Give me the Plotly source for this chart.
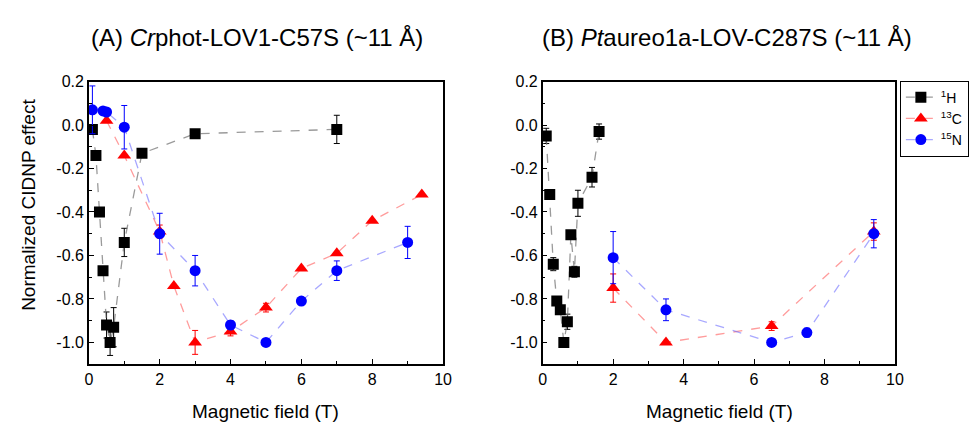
import plotly.graph_objects as go

# Panel A: Crphot-LOV1-C57S
a_h_x = [0.1, 0.2, 0.3, 0.4, 0.5, 0.6, 0.7, 1.0, 1.5, 3.0, 7.0]
a_h_y = [-0.02, -0.14, -0.40, -0.67, -0.92, -1.00, -0.93, -0.54, -0.13, -0.04, -0.02]
a_h_e = [0.0, 0.0, 0.0, 0.015, 0.06, 0.06, 0.09, 0.065, 0.0, 0.0, 0.065]

a_c_x = [0.5, 1.0, 2.0, 2.4, 3.0, 4.0, 5.0, 6.0, 7.0, 8.0, 9.4]
a_c_y = [0.02, -0.14, -0.49, -0.74, -1.00, -0.95, -0.84, -0.66, -0.59, -0.44, -0.32]
a_c_e = [0.0, 0.0, 0.03, 0.0, 0.055, 0.02, 0.02, 0.0, 0.0, 0.0, 0.0]

a_n_x = [0.1, 0.4, 0.5, 1.0, 2.0, 3.0, 4.0, 5.0, 6.0, 7.0, 9.0]
a_n_y = [0.07, 0.065, 0.06, -0.01, -0.50, -0.67, -0.92, -1.00, -0.81, -0.67, -0.54]
a_n_e = [0.11, 0.0, 0.0, 0.10, 0.094, 0.07, 0.02, 0.0, 0.0, 0.045, 0.074]

# Panel B: Ptaureo1a-LOV-C287S
b_h_x = [0.1, 0.2, 0.3, 0.4, 0.5, 0.6, 0.7, 0.8, 0.9, 1.0, 1.4, 1.6]
b_h_y = [-0.05, -0.32, -0.64, -0.81, -0.85, -1.00, -0.905, -0.505, -0.675, -0.36, -0.24, -0.03]
b_h_e = [0.035, 0.0, 0.03, 0.0, 0.0, 0.0, 0.035, 0.0, 0.025, 0.06, 0.045, 0.035]

b_c_x = [2.0, 3.5, 6.5, 9.4]
b_c_y = [-0.75, -1.00, -0.925, -0.49]
b_c_e = [0.065, 0.0, 0.02, 0.04]

b_n_x = [2.0, 3.5, 6.5, 7.5, 9.4]
b_n_y = [-0.61, -0.85, -1.00, -0.955, -0.50]
b_n_e = [0.12, 0.05, 0.0, 0.02, 0.065]

y_tickvals = [0.2, 0.0, -0.2, -0.4, -0.6, -0.8, -1.0]
y_ticktext = ["0.2", "0.0", "-0.2", "-0.4", "-0.6", "-0.8", "-1.0"]
x_tickvals = [0, 2, 4, 6, 8, 10]
x_ticktext = ["0", "2", "4", "6", "8", "10"]

series_names = ["<sup>1</sup>H", "<sup>13</sup>C", "<sup>15</sup>N"]
marker_colors = ["black", "red", "blue"]
line_colors = ["rgba(120,120,120,0.75)", "rgba(255,90,90,0.6)", "rgba(110,110,255,0.6)"]
symbols = ["square", "triangle-up", "circle"]

FONT = "Liberation Sans, Arial, sans-serif"

fig = go.Figure()

panels = [
    ("x", "y", [(a_h_x, a_h_y, a_h_e), (a_c_x, a_c_y, a_c_e), (a_n_x, a_n_y, a_n_e)], True),
    ("x2", "y2", [(b_h_x, b_h_y, b_h_e), (b_c_x, b_c_y, b_c_e), (b_n_x, b_n_y, b_n_e)], False),
]
for xa, ya, series, show in panels:
    for i, (xs, ys, es) in enumerate(series):
        fig.add_trace(go.Scatter(
            x=xs, y=ys, xaxis=xa, yaxis=ya,
            mode="lines+markers",
            name=series_names[i], legendgroup=str(i), showlegend=show,
            line=dict(color=line_colors[i], dash="dash", width=1.3),
            marker=dict(color=marker_colors[i], symbol=symbols[i], size=11 if i != 1 else 12,
                        line=dict(width=0)),
            error_y=dict(type="data", array=es, visible=True, color=marker_colors[i],
                         thickness=1, width=3),
        ))

axis_common = dict(
    showline=True, linecolor="black", linewidth=1.5, mirror=True,
    ticks="inside", ticklen=5, tickcolor="black", showgrid=False, zeroline=False,
    tickfont=dict(family=FONT, size=16, color="black"),
)
x_common = dict(axis_common, range=[0, 10], tickvals=x_tickvals, ticktext=x_ticktext,
                minor=dict(ticks="inside", ticklen=3, dtick=1, tickcolor="black"))
y_common = dict(axis_common, range=[-1.1, 0.2], tickvals=y_tickvals, ticktext=y_ticktext,
                minor=dict(ticks="inside", ticklen=3, dtick=0.1, tickcolor="black"))

W, H = 973, 423


def px(p):
    return p / W


def py(p):
    return 1 - p / H


fig.update_layout(
    width=W, height=H,
    margin=dict(l=0, r=0, t=0, b=0),
    paper_bgcolor="white", plot_bgcolor="white",
    font=dict(family=FONT, color="black"),
    xaxis=dict(x_common, domain=[px(86), px(445)], anchor="y"),
    yaxis=dict(y_common, domain=[py(363), py(75)], anchor="x"),
    xaxis2=dict(x_common, domain=[px(546), px(903)], anchor="y2"),
    yaxis2=dict(y_common, domain=[py(363), py(75)], anchor="x2"),
    legend=dict(x=px(908), y=py(74), xanchor="left", yanchor="top",
                bordercolor="black", borderwidth=1, bgcolor="white",
                font=dict(family=FONT, size=14), itemwidth=30,
                tracegroupgap=0),
    showlegend=True,
)

annotations = [
    dict(text="(A) <i>Cr</i>phot-LOV1-C57S (~11 Å)", x=px(256), y=py(30), size=24),
    dict(text="(B) <i>Pt</i>aureo1a-LOV-C287S (~11 Å)", x=px(733), y=py(30), size=24),
    dict(text="Magnetic field (T)", x=px(265), y=py(411), size=19),
    dict(text="Magnetic field (T)", x=px(725), y=py(411), size=19),
]
for a in annotations:
    fig.add_annotation(text=a["text"], x=a["x"], y=a["y"], xref="paper", yref="paper",
                       showarrow=False, xanchor="center", yanchor="middle",
                       font=dict(family=FONT, size=a["size"], color="black"))
fig.add_annotation(text="Normalized CIDNP effect", x=px(25), y=py(201),
                   xref="paper", yref="paper", showarrow=False, textangle=-90,
                   xanchor="center", yanchor="middle",
                   font=dict(family=FONT, size=19, color="black"))

fig.write_html("out.html", config={"displayModeBar": False},
               post_script="document.body.style.margin='0';document.body.style.overflow='hidden';")
